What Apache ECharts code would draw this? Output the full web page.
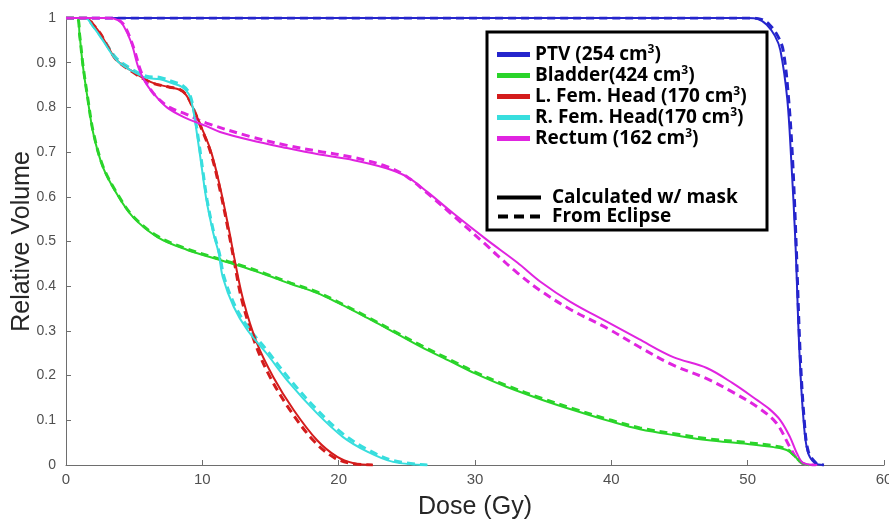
<!DOCTYPE html>
<html><head><meta charset="utf-8">
<script src="https://cdn.jsdelivr.net/npm/echarts@6/dist/echarts.min.js"></script>
<style>html,body{margin:0;padding:0;background:#fff}#c{width:889px;height:523px}</style>
</head><body><div id="c"></div>
<script>
// Dose (Gy), relative volume pairs
var ptvCalc = [[0,1],[49,1],[50,1],[50.8,0.997],[51.4,0.985],[52,0.96],[52.4,0.928],[52.9,0.82],[53.2,0.68],[53.5,0.5],[53.8,0.25],[54.1,0.1],[54.4,0.03],[54.9,0.005],[55.6,0]];
var ptvEcl = [[0,1],[49.2,1],[50.2,1],[51.0,0.997],[51.6,0.985],[52.2,0.96],[52.6,0.928],[53.0,0.82],[53.3,0.68],[53.55,0.5],[53.85,0.25],[54.15,0.1],[54.45,0.03],[55.0,0.005],[55.6,0]];
var bladderCalc = [[0,1],[0.8,1],[1.0,0.96],[1.25,0.89],[1.6,0.817],[2.0,0.742],[2.7,0.667],[3.7,0.608],[4.9,0.555],[6.7,0.51],[8.9,0.481],[10.8,0.463],[13,0.443],[14.7,0.425],[16.5,0.405],[18.4,0.385],[20,0.362],[22.1,0.329],[24,0.298],[26,0.265],[28.2,0.232],[30,0.205],[32.3,0.175],[35,0.145],[37.2,0.123],[40,0.097],[42.1,0.08],[45,0.065],[47,0.056],[50,0.047],[51.9,0.04],[52.9,0.033],[53.5,0.018],[54,0.004],[54.5,0]];
var bladderEcl = [[0,1],[0.8,1],[1.0,0.962],[1.25,0.893],[1.6,0.82],[2.0,0.745],[2.7,0.669],[3.7,0.61],[4.9,0.557],[6.7,0.512],[8.9,0.483],[10.8,0.465],[13,0.445],[14.7,0.427],[16.5,0.407],[18.4,0.387],[20,0.364],[22.1,0.331],[24,0.3],[26,0.268],[28.2,0.235],[30,0.208],[32.3,0.178],[35,0.148],[37.2,0.126],[40,0.1],[42.1,0.083],[45,0.068],[47,0.059],[50,0.05],[51.9,0.043],[52.9,0.035],[53.5,0.019],[54,0.004],[54.5,0]];
var lfhCalc = [[0,1],[1.5,1],[2.0,0.985],[2.5,0.966],[3.1,0.935],[3.7,0.906],[4.9,0.88],[6.2,0.857],[7.6,0.845],[8.3,0.84],[8.8,0.828],[9.3,0.8],[9.8,0.765],[10.6,0.705],[11.3,0.622],[12.0,0.519],[12.3,0.47],[13.0,0.369],[14.0,0.273],[15.2,0.197],[16.7,0.123],[18.4,0.056],[19.9,0.018],[21.1,0.004],[22.5,0]];
var lfhEcl = [[0,1],[1.5,1],[2.0,0.985],[2.5,0.966],[3.1,0.935],[3.7,0.906],[4.9,0.879],[6.2,0.856],[7.6,0.845],[8.3,0.841],[8.8,0.829],[9.3,0.8],[9.8,0.763],[10.6,0.7],[11.3,0.615],[12.0,0.51],[12.3,0.462],[12.9,0.369],[13.9,0.27],[15.0,0.195],[16.5,0.12],[18.2,0.053],[19.7,0.016],[21,0.003],[22.5,0]];
var rfhCalc = [[0,1],[1.4,1],[2.0,0.98],[2.7,0.95],[3.7,0.906],[4.7,0.884],[5.9,0.866],[6.9,0.863],[7.8,0.854],[8.5,0.846],[9.0,0.83],[9.3,0.8],[9.6,0.742],[9.95,0.667],[10.3,0.593],[10.8,0.519],[11.2,0.474],[11.5,0.42],[12.3,0.354],[13.3,0.302],[14.7,0.25],[16.4,0.183],[18.4,0.116],[20.3,0.063],[22.1,0.03],[24,0.007],[26.5,0]];
var rfhEcl = [[0,1],[1.4,1],[2.0,0.982],[2.7,0.953],[3.7,0.91],[4.7,0.888],[5.9,0.87],[6.9,0.867],[7.8,0.858],[8.5,0.85],[9.0,0.834],[9.3,0.805],[9.65,0.742],[10.0,0.667],[10.35,0.593],[10.85,0.519],[11.25,0.474],[11.6,0.42],[12.4,0.356],[13.4,0.306],[14.7,0.258],[16.4,0.192],[18.4,0.124],[20.3,0.07],[22.1,0.035],[24,0.01],[26.5,0]];
var rectumCalc = [[0,1],[3.2,1],[3.8,0.995],[4.2,0.984],[4.8,0.944],[5.3,0.89],[5.8,0.857],[6.4,0.832],[7.4,0.8],[8.6,0.779],[10.3,0.758],[11.3,0.745],[13.5,0.727],[16.2,0.709],[18.5,0.695],[21.1,0.682],[23.5,0.664],[25,0.645],[26.5,0.611],[28.4,0.563],[30.9,0.503],[33.1,0.453],[34.8,0.41],[37,0.365],[39.7,0.32],[42,0.282],[44.5,0.242],[47,0.217],[48.9,0.183],[50.7,0.145],[51.6,0.125],[52.4,0.1],[53.1,0.063],[53.6,0.027],[54.1,0.004],[55.1,0]];
var rectumEcl = [[0,1],[3.5,1],[4.1,0.99],[4.5,0.97],[5.0,0.93],[5.5,0.88],[6.0,0.85],[6.6,0.825],[7.6,0.8],[8.8,0.785],[10.3,0.765],[13.5,0.735],[16.2,0.715],[18.5,0.702],[21.1,0.688],[23.5,0.668],[25,0.645],[26.5,0.608],[28.4,0.558],[30.9,0.49],[31.6,0.47],[33.1,0.43],[34.8,0.39],[37,0.348],[39.7,0.306],[42,0.265],[44.5,0.224],[47,0.193],[48.9,0.163],[50.7,0.13],[52.1,0.094],[53.1,0.04],[53.6,0.015],[54.2,0.002],[55,0]];

var structNames = ['PTV', 'Bladder', 'L. Fem. Head', 'R. Fem. Head', 'Rectum'];
var structLabels = ['PTV (254 cm', 'Bladder(424 cm', 'L. Fem. Head (170 cm', 'R. Fem. Head(170 cm', 'Rectum (162 cm'];
var structColors = ['#2525cc', '#2ad42a', '#d41c1c', '#38dede', '#e024e0'];
var calcData = [ptvCalc, bladderCalc, lfhCalc, rfhCalc, rectumCalc];
var eclData = [ptvEcl, bladderEcl, lfhEcl, rfhEcl, rectumEcl];
var methodNames = ['Calculated w/ mask', 'From Eclipse'];
var xTicks = {min: 0, max: 60, interval: 10};
var yTicks = {min: 0, max: 1, interval: 0.1};

var series = [];
for (var i = 0; i < structNames.length; i++) {
  series.push({name: structNames[i] + ' ecl', type: 'line', data: eclData[i], showSymbol: false, symbol: 'none',
    smooth: 0.35, z: 2,
    lineStyle: {color: structColors[i], width: 3, type: [8, 5]}, itemStyle: {color: structColors[i]}});
}
for (var j = 0; j < structNames.length; j++) {
  series.push({name: structNames[j], type: 'line', data: calcData[j], showSymbol: false, symbol: 'none',
    smooth: 0.35, z: 3,
    lineStyle: {color: structColors[j], width: 2}, itemStyle: {color: structColors[j]}});
}
series.push({name: methodNames[0], type: 'line', data: [], symbol: 'none', lineStyle: {color: '#000', width: 4}, itemStyle: {color: '#000'}});
series.push({name: methodNames[1], type: 'line', data: [], symbol: 'none', lineStyle: {color: '#000', width: 4, type: [9, 4]}, itemStyle: {color: '#000'}});

var LF = 'Open Sans';
var legendFont = {fontFamily: LF, fontWeight: 'bold', fontSize: 19, color: '#000', lineHeight: 19,
  rich: {a: {fontFamily: LF, fontWeight: 'bold', fontSize: 19, color: '#000', lineHeight: 19},
         s: {fontFamily: LF, fontWeight: 'bold', fontSize: 12, color: '#000', verticalAlign: 'bottom', padding: [0, 0, 8, 0], lineHeight: 19}}};
var solidIcon = 'path://M0,0H44V4H0Z';
var dashIcon = 'path://M0,0H10V4H0Z M16,0H26V4H16Z M32,0H42V4H32Z';

var chart = echarts.init(document.getElementById('c'), null, {renderer: 'canvas'});
chart.setOption({
  animation: false,
  backgroundColor: '#fff',
  grid: {left: 66, right: 5, top: 18, bottom: 58, containLabel: false, outerBoundsMode: 'none'},
  xAxis: {type: 'value', min: xTicks.min, max: xTicks.max, interval: xTicks.interval,
    name: 'Dose (Gy)', nameLocation: 'middle', nameGap: 30,
    nameTextStyle: {fontFamily: 'Liberation Sans', fontSize: 25, color: '#262626'},
    axisLine: {lineStyle: {color: '#6e6e6e', width: 1}},
    axisTick: {inside: true, length: 5, lineStyle: {color: '#6e6e6e'}},
    axisLabel: {fontFamily: 'Liberation Sans', fontSize: 15, color: '#505050', margin: 7},
    splitLine: {show: false}},
  yAxis: {type: 'value', min: yTicks.min, max: yTicks.max, interval: yTicks.interval,
    name: 'Relative Volume', nameLocation: 'middle', nameGap: 31, nameRotate: 90, nameMoveOverlap: false,
    nameTextStyle: {fontFamily: 'Liberation Sans', fontSize: 25, color: '#262626'},
    axisLine: {show: true, lineStyle: {color: '#6e6e6e', width: 1}},
    axisTick: {show: true, inside: true, length: 5, lineStyle: {color: '#6e6e6e'}},
    axisLabel: {fontFamily: 'Liberation Sans', fontSize: 14, color: '#505050', margin: 10},
    splitLine: {show: false}},
  legend: [
    {data: structNames, orient: 'vertical', left: 497, top: 44, itemWidth: 33, itemHeight: 5, itemGap: 1,
     padding: 0, icon: 'rect',
     formatter: function (n) { var k = structNames.indexOf(n); return '{a|' + structLabels[k] + '}{s|3}{a|)}'; },
     textStyle: legendFont, selectedMode: false},
    {data: [{name: methodNames[0], icon: solidIcon}, {name: methodNames[1], icon: dashIcon}],
     orient: 'vertical', left: 497, top: 188, itemWidth: 44, itemHeight: 4, itemGap: 0,
     padding: 0, textStyle: {fontFamily: LF, fontWeight: 'bold', fontSize: 19, color: '#000', lineHeight: 18, padding: [0, 0, 0, 6]},
     selectedMode: false}
  ],
  graphic: [{type: 'rect', shape: {x: 487, y: 32, width: 280, height: 198}, z: 10, silent: true,
    style: {fill: 'rgba(0,0,0,0)', stroke: '#000', lineWidth: 3}}],
  series: series
});
</script>
</body></html>
